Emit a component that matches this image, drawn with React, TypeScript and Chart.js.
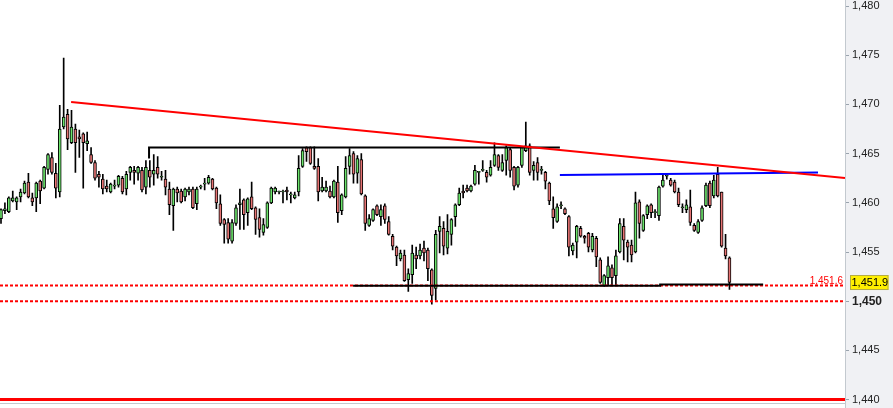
import React, { useEffect, useRef } from 'react';
import { Chart, registerables } from 'chart.js';

Chart.register(...registerables);

// ---- OHLC data ----
const opens = [
  1458.4, 1459.2, 1459.1, 1460.2, 1460.1, 1460.6, 1461.0, 1462.1, 1460.5, 1460.5,
  1462.2, 1461.5, 1463.4, 1464.6, 1463.0, 1461.1, 1467.7, 1469.0, 1466.1, 1467.5,
  1466.7, 1467.0, 1466.0, 1464.9, 1464.1, 1462.9, 1462.4, 1461.7, 1461.1, 1461.7,
  1461.8, 1462.5, 1461.4, 1463.1, 1463.3, 1463.0, 1463.3, 1461.6, 1463.3, 1462.9,
  1463.6, 1462.6, 1462.4, 1461.4, 1459.7, 1461.4, 1461.2, 1460.6, 1461.1, 1461.4,
  1459.9, 1461.6, 1461.9, 1462.0, 1462.4, 1461.5, 1459.9, 1458.3, 1458.0, 1456.1,
  1457.9, 1459.8, 1460.3, 1459.0, 1460.6, 1459.5, 1458.5, 1457.0, 1457.5, 1460.0,
  1461.1, 1461.1, 1461.1, 1461.3, 1460.8, 1460.5, 1461.1, 1463.7, 1465.6, 1465.6,
  1463.7, 1463.7, 1461.2, 1461.2, 1461.2, 1460.6, 1462.1, 1459.2, 1460.6, 1463.7,
  1465.0, 1463.0, 1464.4, 1460.7, 1457.7, 1458.2, 1459.7, 1458.6, 1459.7, 1458.1,
  1456.6, 1455.5, 1454.3, 1454.7, 1452.2, 1452.7, 1454.7, 1454.6, 1455.4, 1455.2,
  1453.2, 1451.3, 1457.1, 1457.4, 1455.4, 1456.8, 1458.6, 1459.8, 1461.2, 1461.5,
  1461.2, 1461.9, 1463.1, 1463.3, 1463.1, 1462.8, 1463.8, 1464.8, 1463.3, 1464.3,
  1465.4, 1463.6, 1461.8, 1463.8, 1465.3, 1465.8, 1463.3, 1464.1, 1463.3, 1463.1,
  1462.0, 1459.4, 1458.1, 1459.7, 1459.4, 1458.6, 1455.1, 1456.0, 1457.4, 1456.6,
  1456.9, 1455.2, 1456.4, 1454.2, 1451.6, 1452.4, 1453.4, 1452.6, 1455.0, 1457.6,
  1456.0, 1455.7, 1455.0, 1460.1, 1457.2, 1458.8, 1459.8, 1459.0, 1458.7, 1461.7,
  1462.7, 1462.3, 1462.1, 1461.1, 1459.5, 1459.3, 1459.6, 1457.7, 1457.0, 1458.2,
  1459.7, 1462.0, 1460.7, 1462.9, 1461.1, 1455.4, 1454.4,
];
const highs = [
  1459.4, 1460.0, 1460.6, 1461.2, 1460.6, 1461.4, 1462.2, 1463.0, 1461.0, 1462.1,
  1462.3, 1463.7, 1465.0, 1465.1, 1464.0, 1469.9, 1474.7, 1469.5, 1469.4, 1468.0,
  1467.4, 1467.1, 1467.2, 1465.6, 1464.3, 1463.2, 1462.9, 1462.3, 1462.0, 1462.3,
  1462.8, 1462.7, 1463.2, 1463.7, 1463.7, 1463.7, 1463.6, 1464.3, 1464.3, 1464.9,
  1464.7, 1463.2, 1463.3, 1462.1, 1461.5, 1461.6, 1461.4, 1461.5, 1461.6, 1461.6,
  1461.6, 1461.8, 1462.5, 1462.8, 1462.5, 1461.6, 1460.8, 1458.4, 1458.4, 1458.3,
  1459.8, 1461.4, 1460.4, 1460.5, 1462.1, 1459.6, 1459.4, 1458.4, 1460.1, 1461.6,
  1461.6, 1461.2, 1461.3, 1461.6, 1461.1, 1461.1, 1464.8, 1465.5, 1465.7, 1465.7,
  1465.7, 1464.5, 1462.6, 1462.2, 1461.7, 1462.3, 1463.7, 1460.9, 1464.7, 1465.5,
  1465.2, 1464.8, 1465.0, 1460.8, 1458.8, 1459.4, 1459.8, 1459.8, 1459.9, 1458.6,
  1456.8, 1455.6, 1455.2, 1455.2, 1453.3, 1455.7, 1455.5, 1455.8, 1456.1, 1455.4,
  1453.3, 1457.2, 1458.6, 1458.1, 1458.8, 1458.4, 1459.9, 1461.5, 1461.8, 1461.8,
  1461.8, 1463.8, 1463.2, 1464.3, 1463.3, 1464.3, 1466.1, 1464.9, 1464.9, 1465.8,
  1465.6, 1463.7, 1463.7, 1465.7, 1468.2, 1466.0, 1464.2, 1464.6, 1463.7, 1463.2,
  1462.1, 1460.6, 1459.9, 1460.1, 1459.5, 1458.7, 1455.9, 1457.7, 1457.6, 1456.7,
  1457.0, 1456.9, 1456.6, 1454.4, 1452.7, 1454.5, 1453.7, 1455.2, 1458.4, 1458.4,
  1456.2, 1456.2, 1461.1, 1460.3, 1458.8, 1459.8, 1459.9, 1459.3, 1461.7, 1462.8,
  1462.9, 1462.5, 1462.3, 1461.5, 1459.9, 1460.3, 1461.3, 1457.9, 1458.3, 1459.7,
  1462.0, 1462.2, 1462.8, 1463.6, 1461.1, 1456.8, 1454.5,
];
const lows = [
  1457.9, 1458.9, 1459.0, 1460.1, 1459.3, 1460.1, 1460.9, 1460.5, 1459.7, 1459.1,
  1459.9, 1461.4, 1462.9, 1462.9, 1460.5, 1460.6, 1467.5, 1465.4, 1466.0, 1463.1,
  1464.6, 1461.5, 1465.3, 1464.0, 1462.3, 1461.6, 1460.9, 1461.1, 1461.0, 1461.4,
  1461.6, 1460.9, 1460.8, 1462.3, 1461.9, 1462.3, 1461.1, 1460.9, 1461.6, 1461.8,
  1462.5, 1462.3, 1460.8, 1458.8, 1457.2, 1460.1, 1460.0, 1460.2, 1460.8, 1459.4,
  1459.3, 1461.4, 1461.3, 1461.9, 1461.3, 1459.4, 1457.7, 1455.9, 1455.9, 1455.9,
  1457.7, 1457.3, 1457.3, 1457.7, 1459.3, 1456.8, 1456.5, 1456.7, 1457.4, 1459.9,
  1460.9, 1460.9, 1460.0, 1460.3, 1460.0, 1460.4, 1460.7, 1463.6, 1464.2, 1463.9,
  1463.4, 1460.2, 1461.1, 1461.1, 1460.5, 1460.5, 1458.0, 1458.8, 1460.5, 1462.9,
  1462.0, 1462.0, 1460.8, 1457.2, 1457.6, 1458.1, 1458.7, 1457.7, 1457.9, 1456.7,
  1455.2, 1453.6, 1454.1, 1452.0, 1451.0, 1451.8, 1453.3, 1454.3, 1454.1, 1452.1,
  1449.7, 1450.1, 1454.9, 1454.7, 1454.8, 1455.7, 1457.6, 1459.7, 1460.5, 1461.1,
  1461.1, 1461.8, 1461.9, 1463.2, 1462.1, 1462.7, 1463.7, 1463.3, 1463.2, 1462.8,
  1462.6, 1461.3, 1461.6, 1463.6, 1465.2, 1462.8, 1462.3, 1462.3, 1462.9, 1461.4,
  1459.8, 1457.4, 1458.0, 1459.4, 1458.8, 1454.6, 1454.7, 1454.4, 1456.5, 1455.9,
  1455.0, 1455.0, 1453.5, 1451.8, 1451.5, 1451.6, 1451.6, 1451.6, 1454.9, 1454.2,
  1454.0, 1454.0, 1454.9, 1456.4, 1457.1, 1458.4, 1458.5, 1458.5, 1458.2, 1461.6,
  1462.4, 1461.7, 1461.0, 1459.6, 1459.0, 1459.0, 1457.7, 1457.1, 1456.9, 1458.1,
  1459.6, 1459.5, 1460.5, 1460.6, 1455.5, 1454.3, 1451.2,
];
const closes = [
  1459.3, 1459.4, 1460.5, 1460.5, 1460.5, 1461.1, 1462.0, 1460.6, 1460.1, 1462.0,
  1461.2, 1463.6, 1464.9, 1463.1, 1461.5, 1467.5, 1468.7, 1466.5, 1467.7, 1466.1,
  1466.5, 1466.1, 1466.3, 1464.1, 1462.5, 1462.6, 1461.4, 1461.4, 1461.9, 1461.8,
  1462.7, 1461.1, 1462.9, 1463.6, 1463.1, 1463.6, 1461.3, 1463.6, 1462.6, 1463.3,
  1462.9, 1462.6, 1461.6, 1459.8, 1461.4, 1461.0, 1460.1, 1461.4, 1461.4, 1459.5,
  1461.4, 1461.6, 1461.9, 1462.6, 1461.4, 1460.0, 1457.9, 1457.8, 1456.3, 1458.0,
  1459.5, 1460.0, 1458.8, 1460.4, 1459.4, 1458.3, 1457.3, 1457.8, 1460.0, 1461.5,
  1461.5, 1461.1, 1461.1, 1461.1, 1460.8, 1460.8, 1463.5, 1465.3, 1465.2, 1464.0,
  1463.5, 1461.1, 1461.6, 1461.6, 1460.6, 1462.2, 1459.0, 1460.8, 1463.5, 1464.8,
  1462.9, 1464.5, 1460.9, 1457.9, 1458.4, 1459.3, 1458.8, 1459.3, 1458.3, 1456.8,
  1455.6, 1454.6, 1454.9, 1452.1, 1452.8, 1454.9, 1454.3, 1455.2, 1454.9, 1453.3,
  1450.6, 1456.8, 1457.6, 1455.6, 1457.1, 1458.3, 1459.8, 1461.0, 1461.0, 1461.2,
  1461.7, 1463.3, 1463.1, 1463.3, 1462.6, 1463.6, 1464.9, 1463.6, 1464.1, 1465.6,
  1463.3, 1461.7, 1463.6, 1465.6, 1465.8, 1463.1, 1463.8, 1463.1, 1463.3, 1462.2,
  1460.2, 1458.5, 1459.6, 1459.7, 1458.9, 1455.5, 1455.7, 1457.6, 1456.6, 1456.4,
  1455.5, 1456.6, 1454.5, 1451.9, 1452.6, 1453.6, 1452.4, 1454.6, 1457.9, 1456.2,
  1455.5, 1454.7, 1460.0, 1457.9, 1458.7, 1459.7, 1459.0, 1459.0, 1461.6, 1462.3,
  1462.7, 1461.8, 1461.1, 1459.8, 1459.5, 1459.8, 1458.0, 1457.2, 1458.1, 1459.5,
  1461.8, 1459.7, 1462.3, 1460.7, 1455.6, 1454.6, 1451.9,
];

// ---- axis ----
const yTicks = [1440, 1445, 1450, 1455, 1460, 1465, 1470, 1475, 1480];
const boldTick = 1450;
const yMin = 1439.91;
const yMax = 1480.61;
const xMin = -0.255;
const xMax = 215.5;

// ---- drawn lines (bar index, price) ----
const trendRedX = [17.9, 215.5];
const trendRedY = [1470.24, 1462.52];
const resistX = [37.8, 37.8, 142.7];
const resistY = [1464.5, 1465.62, 1465.62];
const blueX = [142.7, 208.6];
const blueY = [1462.82, 1463.08];
const supportX = [89.9, 168.3, 168.3, 194.6];
const supportY = [1451.58, 1451.58, 1451.7, 1451.7];
const dottedLevels = [1451.6, 1450];
const solidLevel = 1440;
const levelLabel = 1451.6;

const GREEN = '#6be36b';
const RED = '#e67373';

const fmt = (v: number, d = 0) =>
  v.toLocaleString('en-US', { minimumFractionDigits: d, maximumFractionDigits: d });

const pts = (xs: number[], ys: number[]) => xs.map((x, i) => ({ x, y: ys[i] }));

export default function App() {
  const ref = useRef<HTMLCanvasElement | null>(null);

  useEffect(() => {
    document.body.style.margin = '0';
    const canvas = ref.current;
    if (!canvas) return;

    const bodies = opens.map((o, i) => ({
      x: i,
      y: [Math.min(o, closes[i]), Math.max(o, closes[i])],
    }));
    const wicks = highs.map((h, i) => ({ x: i, y: [lows[i], h] }));
    const colors = opens.map((o, i) => (closes[i] >= o ? GREEN : RED));

    const lineBase = {
      type: 'line' as const,
      pointRadius: 0,
      tension: 0,
      fill: false,
      order: 0,
      borderCapStyle: 'butt' as const,
    };

    const decor = {
      id: 'decor',
      beforeDraw(chart: any) {
        const { ctx, chartArea } = chart;
        ctx.save();
        ctx.fillStyle = '#ffffff';
        ctx.fillRect(0, 0, chart.width, chart.height);
        ctx.fillStyle = '#f0f1f4';
        ctx.fillRect(chartArea.right, 0, chart.width - chartArea.right, chart.height);
        ctx.restore();
      },
      afterDraw(chart: any) {
        const { ctx, chartArea } = chart;
        const ys = chart.scales.y;
        ctx.save();
        // bottom frame line
        ctx.fillStyle = '#c3c9cf';
        ctx.fillRect(0, 403, chartArea.right, 1);
        ctx.fillRect(chartArea.right, 0, 1, chart.height);
        // level label
        const ly = ys.getPixelForValue(levelLabel);
        ctx.fillStyle = '#ff0000';
        ctx.font = '10px "Liberation Sans", Arial, sans-serif';
        ctx.textAlign = 'right';
        ctx.textBaseline = 'alphabetic';
        ctx.fillText(fmt(levelLabel, 1), chartArea.right - 2, ly - 1.5);
        // last price box
        const last = closes[closes.length - 1];
        const py = ys.getPixelForValue(last);
        ctx.fillStyle = '#fff000';
        ctx.fillRect(850, py - 7.5, 38.5, 15);
        ctx.strokeStyle = '#b5ad45';
        ctx.lineWidth = 1;
        ctx.strokeRect(850.5, py - 7, 37.5, 14);
        ctx.fillStyle = '#000000';
        ctx.font = '11px "Liberation Sans", Arial, sans-serif';
        ctx.textAlign = 'left';
        ctx.textBaseline = 'middle';
        ctx.fillText(fmt(last, 1), 851.5, py + 0.5);
        ctx.restore();
      },
    };

    const chart = new Chart(canvas, {
      type: 'bar',
      data: {
        datasets: [
          {
            ...lineBase,
            data: pts(trendRedX, trendRedY),
            borderColor: '#ff0000',
            borderWidth: 2,
          },
          {
            ...lineBase,
            data: pts(blueX, blueY),
            borderColor: '#0000ff',
            borderWidth: 2,
          },
          {
            ...lineBase,
            data: pts(resistX, resistY),
            borderColor: '#000000',
            borderWidth: 2,
          },
          {
            ...lineBase,
            data: pts(supportX, supportY),
            borderColor: '#000000',
            borderWidth: 2,
          },
          ...dottedLevels.map((lv) => ({
            ...lineBase,
            data: pts([xMin, xMax], [lv, lv]),
            borderColor: '#ff0000',
            borderWidth: 2,
            borderDash: [3, 2],
          })),
          {
            ...lineBase,
            data: pts([xMin, xMax], [solidLevel, solidLevel]),
            borderColor: '#ff0000',
            borderWidth: 3,
            clip: false,
          },
          {
            type: 'bar',
            data: bodies as any,
            backgroundColor: colors,
            borderColor: '#000000',
            borderWidth: 1,
            borderSkipped: false,
            barThickness: 3,
            minBarLength: 1,
            grouped: false,
            order: 1,
          },
          {
            type: 'bar',
            data: wicks as any,
            backgroundColor: '#000000',
            borderWidth: 0,
            barThickness: 1,
            grouped: false,
            order: 2,
          },
        ] as any,
      },
      options: {
        responsive: false,
        animation: false,
        events: [],
        layout: { padding: { left: 0, right: 0, top: 0, bottom: 7.5 } },
        plugins: { legend: { display: false }, tooltip: { enabled: false } },
        scales: {
          x: { type: 'linear', min: xMin, max: xMax, display: false, offset: false },
          y: {
            type: 'linear',
            position: 'right',
            min: yMin,
            max: yMax,
            afterBuildTicks(s: any) {
              s.ticks = yTicks.map((v) => ({ value: v }));
            },
            afterFit(s: any) {
              s.width = 48;
              s.paddingTop = 0;
              s.paddingBottom = 0;
            },
            ticks: {
              padding: 3,
              color: '#222222',
              font: (c: any) =>
                c.tick && c.tick.value === boldTick
                  ? { family: '"Liberation Sans", Arial, sans-serif', size: 12, weight: 'bold' }
                  : { family: '"Liberation Sans", Arial, sans-serif', size: 11 },
              callback: (v: any) => fmt(Number(v)),
            },
            grid: { drawOnChartArea: false, drawTicks: true, tickLength: 4, color: '#9aa4ae' },
            border: { display: true, color: '#b4bcc4' },
          },
        },
      } as any,
      plugins: [decor],
    });

    return () => chart.destroy();
  }, []);

  return (
    <div style={{ width: 893, height: 408, position: 'relative' }}>
      <canvas ref={ref} width={893} height={408} style={{ display: 'block' }} />
    </div>
  );
}
